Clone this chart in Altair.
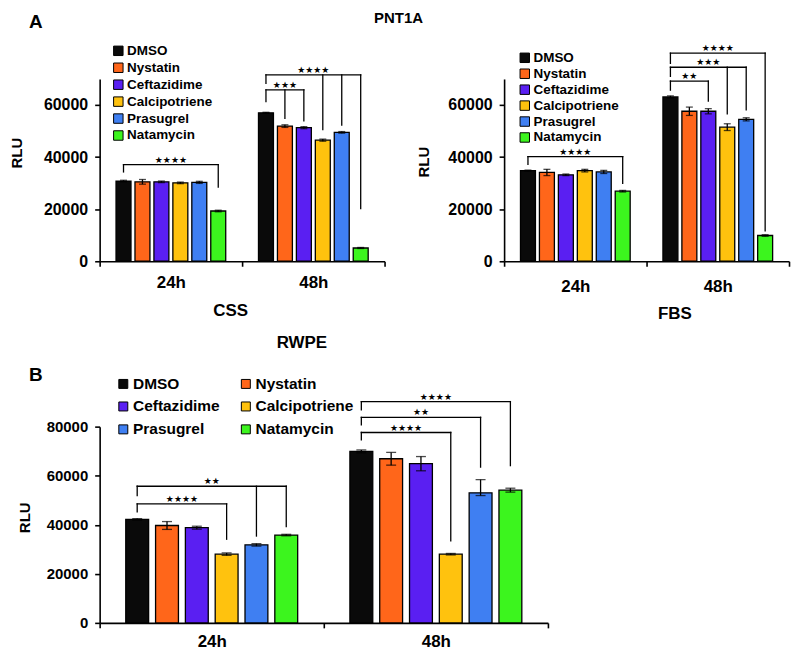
import altair as alt
import pandas as pd

FONT = "Liberation Sans"
STAR_FONT = "DejaVu Sans"

treatments = ["DMSO", "Nystatin", "Ceftazidime", "Calcipotriene", "Prasugrel", "Natamycin"]
colors = ["#0a0a0a", "#ff661a", "#5a1ff2", "#ffc20e", "#3f7ff2", "#3cf51e"]
times = ["24h", "48h"]

# PNT1A - CSS
css_24h = [30800, 30500, 30500, 30100, 30300, 19300]
css_48h = [57000, 51900, 51300, 46500, 49500, 5100]
css_err_24h = [300, 900, 300, 300, 400, 300]
css_err_48h = [200, 500, 400, 400, 300, 200]

# PNT1A - FBS
fbs_24h = [34800, 34100, 33200, 34800, 34300, 26900]
fbs_48h = [63100, 57600, 57600, 51500, 54500, 9900]
fbs_err_24h = [200, 1200, 300, 500, 600, 300]
fbs_err_48h = [400, 1600, 1000, 1300, 600, 300]

# RWPE
rwpe_24h = [42200, 39700, 38800, 28000, 31800, 35800]
rwpe_48h = [69900, 66900, 64900, 28000, 53000, 54100]
rwpe_err_24h = [300, 1600, 600, 500, 500, 300]
rwpe_err_48h_up = [600, 2600, 2900, 300, 5400, 800]
rwpe_err_48h_down = [600, 2600, 2900, 300, 1100, 800]

# significance brackets: (time, compared treatments, bracket level, DMSO leg end, leg ends, label)
css_brackets = [
    ("24h", ["Natamycin"], 37100, 34300, [28500], "★★★★"),
    ("48h", ["Calcipotriene", "Prasugrel", "Natamycin"], 71600, 68300, [50600, 52300, 20200], "★★★★"),
    ("48h", ["Nystatin", "Ceftazidime"], 65800, 61300, [54900, 53900], "★★★"),
]
fbs_brackets = [
    ("24h", ["Natamycin"], 40200, 37200, [29900], "★★★★"),
    ("48h", ["Natamycin"], 79900, 76000, [11700], "★★★★"),
    ("48h", ["Calcipotriene", "Prasugrel"], 74500, 71000, [56600, 58100], "★★★"),
    ("48h", ["Ceftazidime"], 69200, 65700, [61500], "★★"),
]
rwpe_brackets = [
    ("24h", ["Prasugrel", "Natamycin"], 55700, 51900, [35400, 39200], "★★"),
    ("24h", ["Calcipotriene"], 48500, 45300, [34100], "★★★★"),
    ("48h", ["Natamycin"], 90200, 86800, [64100], "★★★★"),
    ("48h", ["Prasugrel"], 83800, 80700, [63500], "★★"),
    ("48h", ["Calcipotriene"], 77600, 74600, [33400], "★★★★"),
]

STEP = 0.133


def pos(t, tr):
    return times.index(t) + 0.5 + (treatments.index(tr) - 2.5) * STEP


def build_panel(vals, err_up, err_down, brackets, o):
    bar_rows, err_rows, cap_rows = [], [], []
    for t in times:
        for i, tr in enumerate(treatments):
            c = pos(t, tr)
            v = vals[t][i]
            bar_rows.append({"treatment": tr, "x": c - o["bar_w"] / 2, "x2": c + o["bar_w"] / 2, "y": v, "y2": 0})
            err_rows.append({"x": c, "y": v - err_down[t][i], "y2": v + err_up[t][i]})
            cap_rows.append({"x": c, "y": v + err_up[t][i]})
            cap_rows.append({"x": c, "y": v - err_down[t][i]})
    h_rows, v_rows, s_rows = [], [], []
    for t, targets, level, left_end, ends, label in brackets:
        x0 = pos(t, "DMSO")
        x1 = pos(t, targets[-1])
        h_rows.append({"x": x0, "x2": x1, "y": level})
        v_rows.append({"x": x0, "y": left_end, "y2": level})
        for tr, e in zip(targets, ends):
            v_rows.append({"x": pos(t, tr), "y": e, "y2": level})
        s_rows.append({"x": (x0 + x1) / 2, "y": level, "label": label})

    xs = alt.Scale(domain=[0, 2], nice=False, zero=False)
    ys = alt.Scale(domain=[0, o["ymax"]], nice=False)
    xaxis = alt.Axis(
        values=[0, 0.5, 1, 1.5, 2],
        labelExpr="datum.value == 0.5 ? '24h' : (datum.value == 1.5 ? '48h' : '')",
        tickOpacity={"condition": {"test": "datum.value == 0.5 || datum.value == 1.5", "value": 0}, "value": 1},
        grid=False, domainColor="black", domainWidth=1.6, tickColor="black", tickWidth=1.6, tickSize=5,
        labelFont=FONT, labelFontSize=17, labelFontWeight="bold", labelColor="black",
        labelPadding=o["xlabel_pad"], labelBaseline="middle", labelFlush=False, labelOverlap=False,
        title=o["xtitle"], titleX=o["xtitle_x"], titleY=o["xtitle_y"], titleAlign="center",
        titleBaseline="middle", titleFont=FONT, titleFontSize=17, titleFontWeight="bold", titleColor="black",
    )
    yaxis = alt.Axis(
        values=o["yticks"], format="d", grid=False, domainColor="black", domainWidth=1.6,
        tickColor="black", tickWidth=1.6, tickSize=5, labelFont=FONT, labelFontSize=o["ylabel_size"],
        labelFontWeight="bold", labelColor="black", labelPadding=7,
        title="RLU", titleAngle=270, titleX=o["ytitle_x"], titleY=o["ytitle_y"], titleAlign="center",
        titleBaseline="middle", titleFont=FONT, titleFontSize=15, titleFontWeight="bold", titleColor="black",
    )
    X = alt.X("x:Q", scale=xs, axis=xaxis)
    Y = alt.Y("y:Q", scale=ys, axis=yaxis)

    legend = alt.Legend(
        orient="none", legendX=o["leg_x"], legendY=o["leg_y"], title=None, symbolType="square",
        symbolSize=o["sym"], symbolStrokeColor="black", symbolStrokeWidth=1, labelFont=FONT,
        labelFontSize=o["leg_size"], labelFontWeight="bold", labelColor="black", rowPadding=o["row_pad"],
        columnPadding=o.get("col_pad", 10), columns=o.get("columns", 1), labelOffset=2, padding=0,
        direction=o.get("direction", "vertical"),
    )

    bars = alt.Chart(pd.DataFrame(bar_rows)).mark_rect(stroke="black", strokeWidth=1.3).encode(
        x=X, x2=alt.X2("x2:Q"), y=Y, y2=alt.Y2("y2:Q"),
        color=alt.Color("treatment:N", scale=alt.Scale(domain=treatments, range=colors), legend=legend),
    )
    err = alt.Chart(pd.DataFrame(err_rows)).mark_rule(color="black", strokeWidth=1.3).encode(
        x=X, y=Y, y2=alt.Y2("y2:Q"))
    caps = alt.Chart(pd.DataFrame(cap_rows)).mark_tick(
        orient="horizontal", color="black", thickness=1.3, size=o["cap"]).encode(x=X, y=Y)
    hbr = alt.Chart(pd.DataFrame(h_rows)).mark_rule(color="black", strokeWidth=1.3, strokeCap="square").encode(
        x=X, x2=alt.X2("x2:Q"), y=Y)
    vbr = alt.Chart(pd.DataFrame(v_rows)).mark_rule(color="black", strokeWidth=1.3, strokeCap="square").encode(
        x=X, y=Y, y2=alt.Y2("y2:Q"))
    stars = alt.Chart(pd.DataFrame(s_rows)).mark_text(
        font=STAR_FONT, fontSize=9, baseline="alphabetic", dy=-2, color="black").encode(
        x=X, y=Y, text="label:N")
    layers = [bars, err, caps, hbr, vbr, stars]
    for txt, px, py, size in o["texts"]:
        layers.append(
            alt.Chart(pd.DataFrame({"label": [txt]})).mark_text(
                font=FONT, fontSize=size, fontWeight="bold", color="black", align="center", baseline="middle"
            ).encode(x=alt.value(px), y=alt.value(py), text="label:N")
        )
    return alt.layer(*layers).properties(width=o["width"], height=o["height"])


css = build_panel(
    {"24h": css_24h, "48h": css_48h},
    {"24h": css_err_24h, "48h": css_err_48h},
    {"24h": css_err_24h, "48h": css_err_48h},
    css_brackets,
    dict(width=286, height=183, ymax=70000, yticks=[0, 20000, 40000, 60000], bar_w=0.105, cap=7,
         xlabel_pad=16, xtitle="CSS", xtitle_x=131, xtitle_y=49, ylabel_size=16, ytitle_x=-83, ytitle_y=74,
         leg_x=12, leg_y=-35, sym=90, leg_size=13.5, row_pad=2,
         texts=[("A", -64, -57, 19), ("PNT1A", 300, -61, 15)]),
)
fbs = build_panel(
    {"24h": fbs_24h, "48h": fbs_48h},
    {"24h": fbs_err_24h, "48h": fbs_err_48h},
    {"24h": fbs_err_24h, "48h": fbs_err_48h},
    fbs_brackets,
    dict(width=286, height=183, ymax=70000, yticks=[0, 20000, 40000, 60000], bar_w=0.105, cap=7,
         xlabel_pad=20, xtitle="FBS", xtitle_x=171, xtitle_y=52, ylabel_size=16, ytitle_x=-81, ytitle_y=83,
         leg_x=14, leg_y=-28, sym=90, leg_size=13.5, row_pad=1,
         texts=[]),
)
rwpe = build_panel(
    {"24h": rwpe_24h, "48h": rwpe_48h},
    {"24h": rwpe_err_24h, "48h": rwpe_err_48h_up},
    {"24h": rwpe_err_24h, "48h": rwpe_err_48h_down},
    rwpe_brackets,
    dict(width=450, height=197, ymax=80000, yticks=[0, 20000, 40000, 60000, 80000], bar_w=0.102, cap=10,
         xlabel_pad=14, xtitle="", xtitle_x=225, xtitle_y=40, ylabel_size=15, ytitle_x=-75, ytitle_y=91,
         leg_x=16, leg_y=-51, sym=81, leg_size=15.5, row_pad=6, col_pad=18, columns=2,
         direction="horizontal",
         texts=[("B", -64, -52, 19), ("RWPE", 203, -84, 17)]),
)

top = alt.hconcat(css, fbs, spacing=120, bounds="flush").resolve_scale(color="independent").resolve_legend(color="independent")
chart = (
    alt.vconcat(top, rwpe, spacing=349, bounds="flush")
    .resolve_scale(color="independent")
    .resolve_legend(color="independent")
    .properties(padding=2, background="white")
    .configure(font=FONT)
    .configure_view(strokeWidth=0)
)
chart.save("out.html", embed_options={"renderer": "svg", "actions": False})
